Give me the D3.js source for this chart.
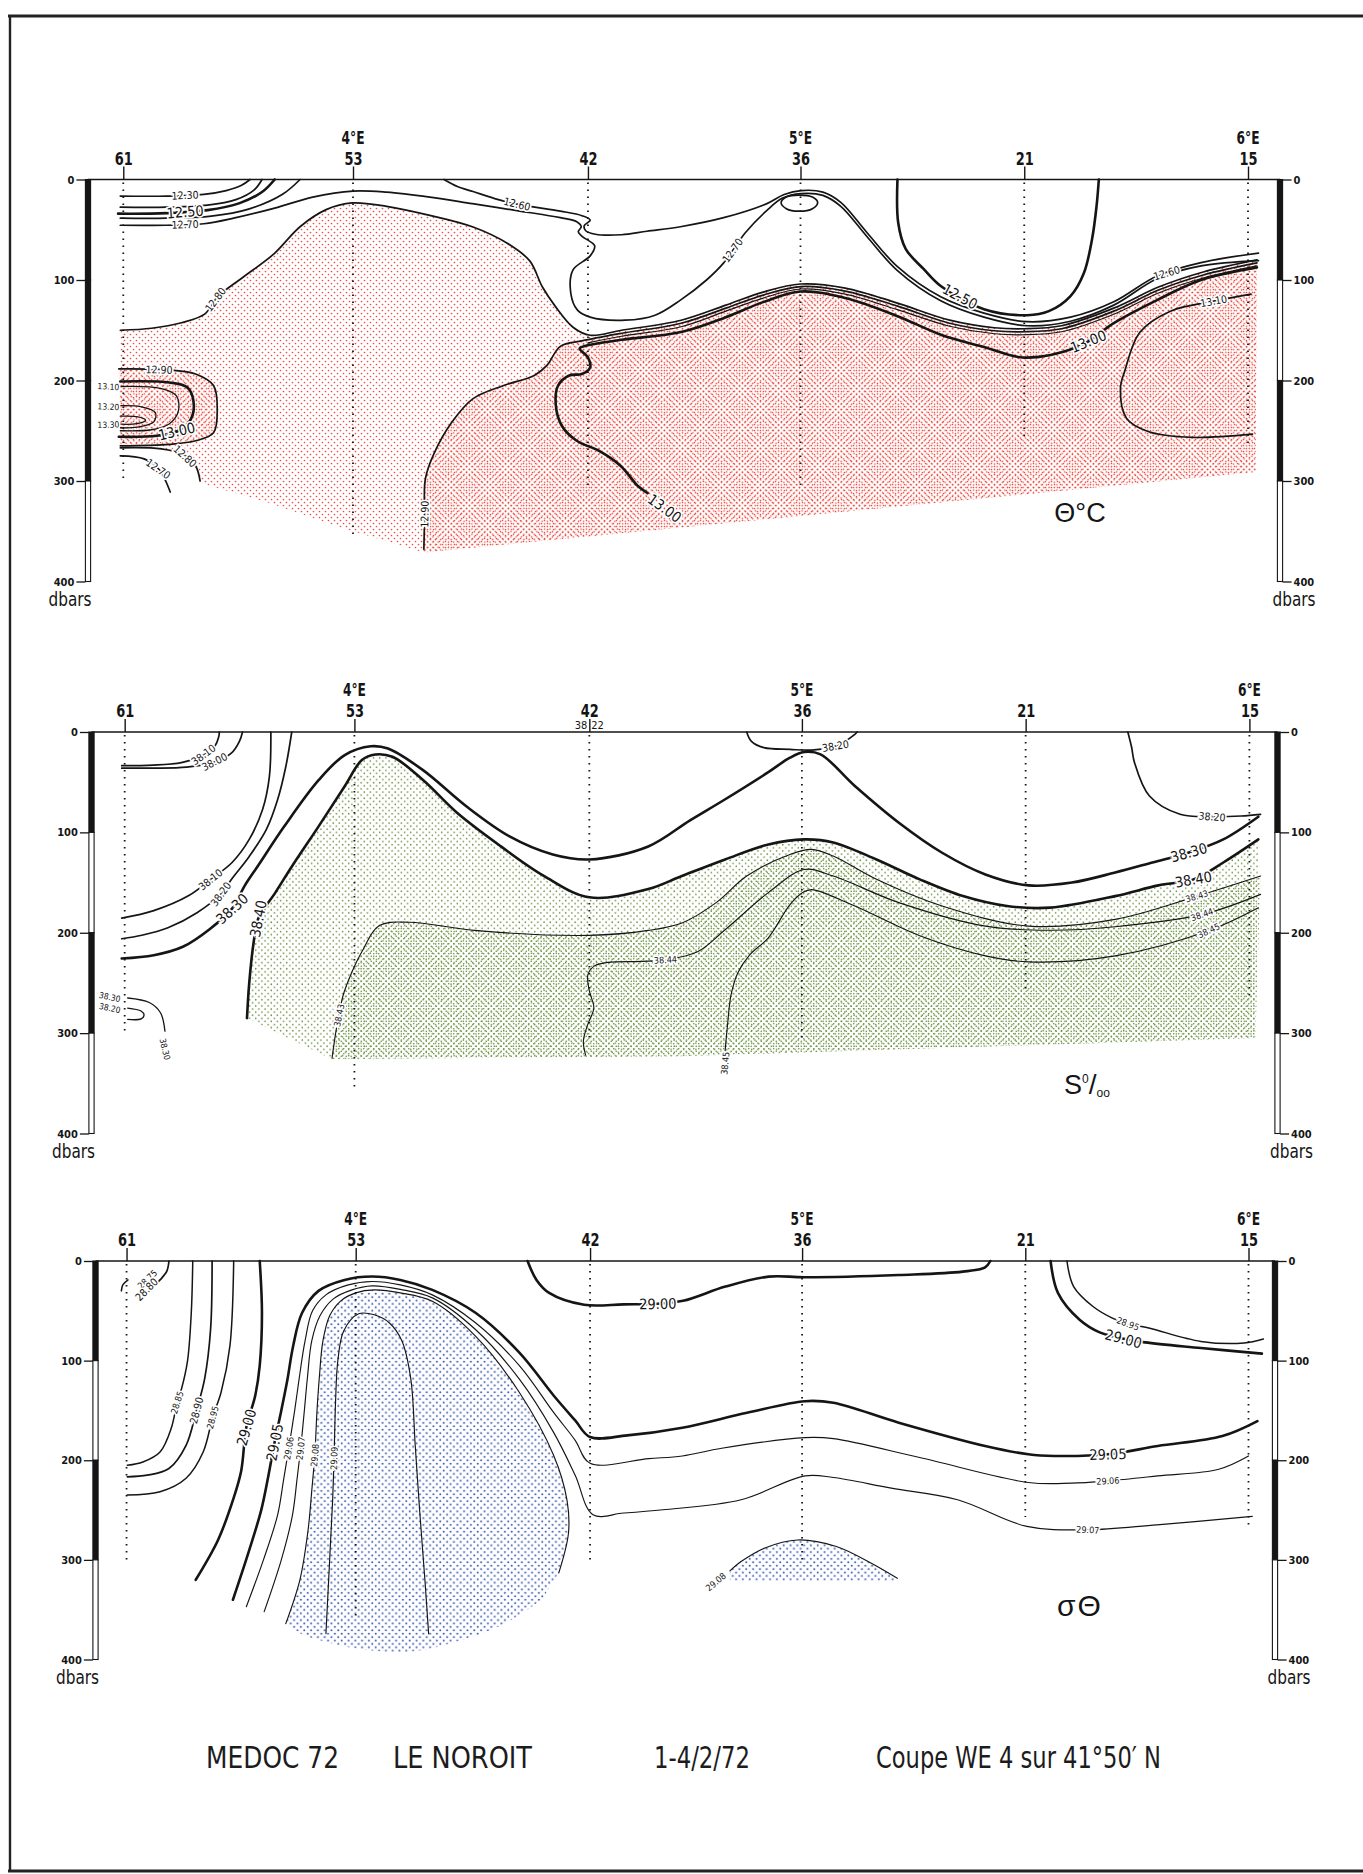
<!DOCTYPE html>
<html>
<head>
<meta charset="utf-8">
<script src="https://cdn.jsdelivr.net/npm/d3@7"></script>
<style>
  html, body { margin: 0; padding: 0; background: #fff; }
  svg { display: block; }
</style>
</head>
<body>
<svg id="chart" width="1363" height="1874"></svg>
<script>
// ---------------------------------------------------------------
// MEDOC 72 - LE NOROIT - section WE 4 along 41°50'N
// Longitudes are minutes east of 3°E, pressures in dbar.
// ---------------------------------------------------------------

const stations      = ["61", "53", "42", "36", "21", "15"];
const stationLon    = [29.2, 60, 91.5, 120, 150, 180];
const stationBottom = [300, 357, 305, 305, 257, 265];
const meridianText  = ["4°E", "5°E", "6°E"];
const meridianLon   = [60, 120, 180];
const depthTicks    = [0, 100, 200, 300, 400];

// ---------- potential temperature (°C) ----------
const thetaIsolines = [
  { level: "12.30", pts: [[28.8,16.5],[35,16.5],[40,14.8],[43,11],[45,6],[46.2,0]] },
  { level: "12.40", pts: [[28.8,27.5],[35,27.5],[40.5,25.5],[44.3,20],[46.8,10],[47.8,0]] },
  { level: "12.50", pts: [[28.5,34],[35,33.5],[40.5,30.5],[44.8,23.5],[47.8,12.5],[49.5,0]] },
  { level: "12.60", pts: [[28.8,38.5],[35,38.5],[41,36.5],[46,29.5],[50.5,15],[52.9,0]] },
  { level: "12.70", pts: [[28.8,45.5],[35,45.5],[40,44],[44,38.5],[49.5,28.5],[54.6,17.5],[60,11.5],[64.5,12.6],[70.3,17.5],[76,24],[82,31],[87.8,38],[90,42],[90.6,47],[90.2,52],[90.8,57],[92.4,66],[91.8,76],[89.5,90],[89.2,113],[90.1,130],[91.8,137],[96.5,140],[100.5,135],[103.9,120],[107.4,100],[109.7,83],[112.6,53],[115.5,30.7],[117.6,18.5],[120.1,14],[123,15.8],[125.4,26.7],[128.9,56.7],[133,90.7],[138.8,120.7],[144.6,137],[150.4,145.5],[156.2,141],[162,125],[167.8,98.7],[173.7,86],[181.4,80.7]] },
  { level: "12.60", pts: [[72.2,0],[74,7],[76.1,12],[79,19],[82,24.5],[87.8,31.5],[90.7,36],[91.8,40.5],[91,46],[91.2,51],[92.5,54.5],[96,55],[99.4,51.5],[103.9,47],[109.7,38],[115.5,24],[117.8,15],[120.1,11],[123,12.5],[125.4,22.7],[128.9,52.7],[133,86.7],[138.8,116.7],[144.6,133],[150.4,141.5],[156.2,137],[162,121.7],[167.8,96],[173.7,82.7],[181.4,73.3]] },
  { level: "12.80", closed: true, pts: [[117.4,23],[118.1,17.5],[119.8,15.5],[121.6,17.5],[122.3,23],[121.6,29],[119.8,31.5],[118.1,29]] },
  { level: "12.50", pts: [[133,0],[133.1,43],[134.1,69],[136.5,89],[138.8,106],[144.6,129],[150.4,135],[153.3,131],[156.2,116],[158,93],[159.1,59],[159.7,26],[160,0]] },
  { id: "t1280", level: "12.80", pts: [[28.8,150],[33,148],[37,142.5],[40.1,134],[41.8,117],[45.3,97],[49.4,74],[52.9,47],[56.4,30],[59.9,23.3],[64.5,26.7],[70.3,35.7],[76.1,47.3],[80.8,64],[83.7,81],[85.4,107],[87.2,127],[89.5,147],[91.8,155],[96,150],[104,140],[110,125],[115,112],[120,104],[126,108],[133,123],[140,140],[146,147.5],[150,148.5],[155,145.5],[162,128],[168,107],[174,92],[181.2,80]] },
  { id: "t1290", level: "12.90", pts: [[69.5,368],[69.6,335],[69.7,298],[70.9,272],[73.2,242],[76.1,218],[80.2,205],[84.3,195],[86,185],[87.8,166],[90.7,160.5],[96,153],[104,143],[110,128],[115,115],[120,106.5],[126,111],[133,126],[140,143],[146,150.5],[150,151.5],[155,148.5],[162,131],[168,110],[174,95],[181.2,83]] },
  { level: "12.95", pts: [[91.5,162.5],[96,156],[104,146.5],[110,131],[115,118],[120,109],[126,114],[133,129.5],[140,146],[146,153.5],[150,154.5],[155,151.5],[162,134],[168,113],[174,98],[181.2,86]] },
  { level: "13.00", pts: [[99.5,312],[98.2,305],[95.9,285],[93,270],[90,260],[88,245],[87.2,225],[87.5,205],[89,195],[90.7,193.5],[91.8,187],[91.5,177],[90.4,168],[91.5,165],[96,159.5],[104,151.7],[110,137],[115,122],[120,111.5],[126,118],[133,136],[139,155],[144.6,166.7],[149.2,176.7],[152,176.5],[155,172],[158.6,161],[162,143],[167.8,120],[173.7,100],[181.2,87.5]] },
  { level: "13.10", pts: [[180.4,114],[175.4,121],[169.6,131],[165.5,152],[163.5,190],[162.9,208],[163.7,237.5],[166.6,250.7],[172.5,256.6],[180.6,253.4]] },
  { id: "t1290L", level: "12.90", pts: [[28.6,188.5],[35.4,189.5],[38.9,193.5],[41.3,205],[41.8,228.5],[41.3,252],[38.9,260],[35.4,263.5],[28.8,265]] },
  { level: "13.00", pts: [[28.8,201],[35.4,202],[37.8,207],[38.6,220],[38.3,238],[36.6,250],[33.7,255],[28.6,256]] },
  { level: "13.10", fine: true, pts: [[28.8,206],[34.3,208],[36.3,215],[36.6,230],[35.4,243],[33,249],[28.8,250]] },
  { level: "13.20", fine: true, pts: [[28.8,225],[31.5,226],[33.5,232],[33.3,241],[31,246.5],[28.8,247]] },
  { level: "13.30", fine: true, pts: [[28.8,235.5],[31,236],[32.2,239.5],[31,243],[28.8,243.5]] },
  { id: "t1280L", level: "12.80", pts: [[28.8,267],[34.3,268],[37.2,273.5],[38.9,285],[39.5,300]] },
  { level: "12.70", pts: [[28.8,275],[32,278],[34,288.5],[35.5,311]] }
];
const thetaLabels = [
  ["12.30",37.5,16.5],["12.50",37.5,33],["12.70",37.5,45.5],["12.80",41.5,119],
  ["12.60",82,24.5],["12.70",110.8,70],["12.50",141,122],["12.60",169,91],
  ["13.00",158.6,161],["13.10",175.4,121],["12.90",34,189.3],
  ["13.10",27.2,206],["13.20",27.2,226],["13.30",27.2,244],["13.00",36.4,251.5],
  ["12.80",37.4,276],["12.70",33.8,289],["12.90",69.6,333],["13.00",101.8,327]
];
const thetaHeavy = ["12.50", "13.00"];
const thetaZones = [
  { dots: "light", parts: ["t1280", { pts: [[181.2,80],[181,291],[69.5,371],[58.7,347],[48,320],[39.5,302]] }, "-t1280L"] },
  { dots: "dense", parts: ["t1290", { pts: [[181.2,83],[181,291],[69.5,371]] }] },
  { dots: "dense", parts: ["t1290L"] }
];

// ---------- salinity (‰) ----------
const salIsolines = [
  { level: "38.10", pts: [[28.8,33.5],[33,33],[36.8,30.5],[39.5,24],[41.3,14],[41.8,5],[41.9,0]] },
  { level: "38.00", pts: [[28.8,36],[33,36],[37.5,35],[41,30.5],[43.5,21],[44.6,9],[45,0]] },
  { level: "38.10", pts: [[48.8,0],[48.6,44.5],[47.7,77],[45.9,107],[43.6,130],[40.7,147],[37.8,163],[33.1,178],[28.8,185.5]] },
  { level: "38.20", pts: [[51.6,0],[50.8,34.6],[49.7,67.5],[48.2,97],[45.9,124],[43.6,146],[42.1,161.4],[38.9,180],[35,195],[31.5,202.5],[28.8,206]] },
  { level: "38.30", pts: [[28.8,225.7],[33.1,222.4],[37,214],[40.5,197],[43.6,176],[45.3,153],[47.1,133],[50.6,94],[55.2,48],[58.7,23],[62.2,14.2],[64.5,16.5],[69.2,38],[75,74],[80.8,104],[86.6,122],[91.5,127],[99.4,114],[105,88],[109.5,68],[115.5,40],[118.4,25.6],[120.3,20],[122.5,22.3],[127.1,53.8],[133,90.4],[138.8,120.3],[144.6,141.9],[150.4,152.8],[156.2,150],[162,140],[167,130],[171.9,120],[176.5,107],[181.2,84.4]] },
  { id: "s3840", level: "38.40", pts: [[45.6,285],[45.9,250],[46.5,209],[47.1,186],[49.4,160],[51.7,133],[55.2,94],[58.7,54],[61,28],[62.8,22.4],[65.1,24.7],[69.2,47.8],[73.8,80.7],[79.6,113.7],[85.4,143.3],[91.5,164.7],[99.4,156.5],[103.9,143.5],[109.7,127],[115.5,112],[120.3,107],[124.2,110],[130,127],[135.8,146.8],[141.6,163.5],[147.5,173.4],[153.3,175],[162,163.5],[167.8,152.8],[172.5,146.8],[176.5,130],[181.2,107]] },
  { id: "s3843", level: "38.43", pts: [[57,325],[57.6,295],[58.5,262],[59.5,242],[61,219],[63.3,193],[67.4,189.5],[76.1,197.7],[91.5,202.6],[99.4,197.7],[104,190],[108.5,170],[112.6,143.5],[118.4,122],[121.3,117],[124.2,123.6],[130,146.8],[138.8,173.4],[150.4,193.4],[162,186.7],[173,163.5],[181.5,143.5]] },
  { level: "38.44", pts: [[91,322],[90.7,308],[91.3,291],[92.1,275],[91.5,258],[91.3,242],[92.2,233],[94,229.5],[98.5,228.5],[101.7,227],[106,219],[109.7,197],[115.5,160],[120.3,137],[124.2,143.5],[133,170],[144.6,193.4],[153.3,197.5],[162,194],[173.6,182],[181.5,161.8]] },
  { level: "38.45", pts: [[109.7,318],[110,294],[110.5,262],[111.4,240],[113,222],[115.5,205],[118.4,172],[120.1,160],[121.3,157],[127.1,173.4],[135.8,203],[144.6,223],[150.4,229],[162,223],[174.5,198],[181.2,175]] },
  { level: "38.20", pts: [[163.7,0],[164.2,15],[164.6,30.6],[166.6,63.8],[170.7,82],[175,84.4],[178.9,83.7],[181.5,82]] },
  { level: "38.20", pts: [[112.6,0],[113.2,9],[114.9,15.6],[118.4,17.3],[121.3,18],[124.5,14],[127.1,2.3],[127.4,0]] },
  { level: "38.30", fine: true, pts: [[29.6,265],[32.5,269.5],[34,279.7],[34.6,298]] },
  { level: "38.20", fine: true, pts: [[29.6,275],[31.4,278],[31.8,282],[31.4,285.8],[29.6,286.4]] }
];
const salLabels = [
  ["38.10",39.6,21],["38.00",41.2,29],["38.10",40.7,147],["38.20",42.1,161.4],["38.30",43.6,176],
  ["38.40",47.1,186],["38.20",124.5,14],["38.30",171.9,120],["38.40",172.5,147],["38.43",173,165],
  ["38.44",173.6,181],["38.45",174.5,197],["38.20",175,84.4],["38.44",101.7,227],["38.43",57.8,282],
  ["38.45",109.7,330],["38.30",27.2,264],["38.20",27.2,275],["38.30",34.6,316]
];
const salHeavy = ["38.30", "38.40"];
const salZones = [
  { dots: "light", parts: ["s3840", { pts: [[181.2,107],[180.8,305],[103.9,323],[57,326],[45.9,286]] }] },
  { dots: "dense", parts: ["s3843", { pts: [[181.5,143.5],[180.8,305],[103.9,323],[57,325.5]] }] }
];
const salTopNote = ["38", "22"];   // surface value at station 42

// ---------- sigma-theta ----------
const sigmaIsolines = [
  { level: "28.75", pts: [[28.5,30],[28.7,24],[29.4,19]] },
  { level: "28.80", pts: [[34.9,0],[34.6,10.5],[33.7,19],[32.9,25]] },
  { level: "28.85", pts: [[38.1,0],[37.9,52],[37.4,100],[36.6,128],[36,142],[35.2,168],[33.7,191.7],[31.4,201.7],[29.3,205]] },
  { level: "28.90", pts: [[40.7,0],[40.5,68],[39.7,118],[38.6,150],[37.2,185],[34.9,208.3],[32,215],[29.3,216.6]] },
  { level: "28.95", pts: [[43.6,0],[43.1,85],[41.9,132],[40.8,156],[39.5,191.7],[37.2,218],[33.7,231.6],[29.3,234.9]] },
  { level: "29.00", pts: [[47.1,0],[47.4,52],[47.1,105],[46.5,135],[45.3,167],[44.6,211],[43.5,240],[41.5,280],[38.5,320]] },
  { level: "29.05", pts: [[43.5,340],[45.7,290],[47.3,250],[48.2,218],[49.1,182],[50,150],[50.8,120],[51.6,85],[52.8,52],[55,30],[58.5,19],[62.2,15.6],[66,19],[70.3,29],[76.1,52],[82,92],[86.6,135],[89.5,160],[91.5,176.7],[96.5,175],[103.9,167.3],[112.6,152.3],[120.4,140.7],[124.2,142.3],[133,162.3],[144.6,185.7],[150.4,194],[153.9,195.7],[161.1,194],[167.8,185.7],[176.5,175.7],[181.2,160.7]] },
  { level: "29.06", pts: [[45.3,347],[47.6,300],[49.5,255],[50.3,220],[51,188],[51.8,150],[52.4,118],[53.2,80],[54.2,50],[56,34],[59,24],[62.2,20.6],[66,24],[70.3,34],[76.1,62],[82,105],[86.6,152],[89.5,180],[91.5,203],[99.4,198.3],[103.9,195.7],[109.2,188],[120.4,177.3],[124.2,178.3],[135.8,197.3],[150.4,222.3],[156.2,223],[161.1,220.7],[167.8,215.7],[176,209],[180,195.7]] },
  { level: "29.07", pts: [[47.7,352],[50,300],[51.5,255],[52.1,220],[52.6,188],[53.1,150],[53.5,118],[54.1,80],[55.2,55],[57,38],[59.5,29],[62.2,25],[66,28.5],[70.3,37],[76.1,68.8],[82,118.6],[86.6,172],[89.5,215],[91.9,254.7],[96,253],[101.3,249.7],[111.8,239.6],[120.4,215.7],[124.2,217.3],[132,228],[140.9,239.6],[150.2,266.4],[158.4,269.8],[167.7,264.8],[180.5,256.4]] },
  { id: "g2908a", level: "29.08", pts: [[50.6,364],[52.5,320],[53.6,270],[54.1,230],[54.5,195],[54.8,150],[55.1,118],[55.6,80],[56.5,55],[58,40],[60,32],[62.5,29],[66,32],[70.3,40.5],[76.1,75.4],[82,132],[86.6,195],[88.4,240],[88.6,273],[87.3,313]] },
  { level: "29.09", pts: [[56,374],[56.5,300],[56.9,240],[57.1,195],[57.3,140],[57.6,100],[58.4,70],[60.4,53],[62.5,54],[64.5,62],[66.2,80],[67.4,118],[68,185],[68.6,251],[69.3,320],[69.8,374]] },
  { level: "29.00", pts: [[83.1,0],[84.3,19],[86,32],[90.7,43.9],[96,43.5],[100.6,42.9],[104,40],[109.7,25.7],[115.5,15.7],[120.4,16.3],[133,14],[141.6,10.7],[144.6,6.3],[145.3,0]] },
  { level: "29.00", pts: [[153.4,0],[154.4,32.3],[157.3,59],[160,71.7],[163.2,78],[166.1,81.7],[173.6,87.3],[181.8,93]] },
  { level: "28.95", pts: [[155.6,0],[156.5,25.7],[159.1,45.7],[161.7,57.3],[163.8,63],[166.6,67.3],[173.6,80.7],[179.4,82.3],[182,78.3]] },
  { id: "g2908b", level: "29.08", pts: [[110.3,311],[111.8,301.7],[115,288],[119.4,280],[124.6,286.6],[129.3,303.4],[132.8,318.5]] }
];
const sigmaLabels = [
  ["28.75",32,18.3],["28.80",31.9,28.5],["28.85",36,142],["28.90",38.6,150],["28.95",40.8,157],
  ["29.00",45.3,167],["29.05",49.1,182],["29.06",51,188],["29.07",52.6,188],["29.08",54.5,195],
  ["29.09",57.1,198],["29.00",100.6,43],["29.00",163.2,78],["28.95",163.8,63],["29.05",161.1,194],
  ["29.06",161.1,221],["29.07",158.4,270],["29.08",108.4,322]
];
const sigmaHeavy = ["29.00", "29.05"];
const sigmaZones = [
  { dots: "light", parts: ["g2908a", { round: true, pts: [[85,340],[80.5,362],[75.7,377],[67.5,392],[59.3,388],[53,376]] }] },
  { dots: "light", parts: ["g2908b", { pts: [[132.8,321],[110.3,321]] }] }
];

// ---------------------------------------------------------------
// drawing
// ---------------------------------------------------------------
const NARROW = '"Liberation Sans Narrow","Arial Narrow","DejaVu Sans Condensed",sans-serif';
const SANS = '"Liberation Sans","DejaVu Sans",sans-serif';
const INK = "#151515";

const svg = d3.select("#chart");
svg.append("rect").attr("width", 1363).attr("height", 1874).attr("fill", "#fff");
const defs = svg.append("defs");

function dotPattern(id, color, step, r) {
  const p = defs.append("pattern").attr("id", id)
    .attr("patternUnits", "userSpaceOnUse").attr("width", step).attr("height", step);
  p.append("circle").attr("cx", step / 4).attr("cy", step / 4).attr("r", r).attr("fill", color);
  p.append("circle").attr("cx", step * 3 / 4).attr("cy", step * 3 / 4).attr("r", r).attr("fill", color);
}
dotPattern("red-light", "#e65247", 6.0, 0.85);
dotPattern("red-dense", "#e65247", 5.2, 0.8);
dotPattern("green-light", "#6a9040", 6.2, 0.8);
dotPattern("green-dense", "#6a9040", 5.0, 0.82);
dotPattern("blue-light", "#3f5db5", 6.8, 1.05);

// sheet frame
svg.append("line").attr("x1", 8).attr("x2", 1363).attr("y1", 16).attr("y2", 16)
  .attr("stroke", "#222").attr("stroke-width", 3.2);
svg.append("line").attr("x1", 10).attr("x2", 10).attr("y1", 15).attr("y2", 1872)
  .attr("stroke", "#222").attr("stroke-width", 2.4);
svg.append("line").attr("x1", 8).attr("x2", 1363).attr("y1", 1871).attr("y2", 1871)
  .attr("stroke", "#222").attr("stroke-width", 3.2);

const curve = d3.curveCatmullRom.alpha(0.5);

const panels = [
  { lines: thetaIsolines, labels: thetaLabels, zones: thetaZones, heavy: thetaHeavy, color: "red",
    xr: [353, 1248], yr: [179.5, 581.5], barL: 88, barR: 1280, leftFill: [1,1,1,0], rightFill: [1,0,1,0] },
  { lines: salIsolines, labels: salLabels, zones: salZones, heavy: salHeavy, color: "green",
    xr: [354.4, 1249.4], yr: [732, 1133.5], barL: 91.5, barR: 1277.5, leftFill: [1,0,1,0], rightFill: [1,0,1,0] },
  { lines: sigmaIsolines, labels: sigmaLabels, zones: sigmaZones, heavy: sigmaHeavy, color: "blue",
    xr: [355.7, 1248.5], yr: [1261, 1659.5], barL: 95.5, barR: 1275, leftFill: [1,0,1,0], rightFill: [1,0,1,0] }
];

function lineWidth(l, heavy) {
  if (l.fine) return 1.3;
  if (heavy.includes(l.level)) return 2.6;
  if (/0$/.test(l.level)) return 1.7;
  if (/\.[0-9]5$/.test(l.level) && !/\.05$/.test(l.level) && /^28/.test(l.level)) return 1.5;
  return 1.15;
}
function labelSize(l, level, heavy) {
  if (l && l.fine) return 8.5;
  if (heavy.includes(level)) return 14.5;
  return level.endsWith("0") ? 10.5 : 9;
}

function zonePath(zone, lines, X, Y) {
  let d = "";
  zone.parts.forEach((part, i) => {
    let pts, curved;
    if (typeof part === "string") {
      const rev = part[0] === "-";
      const l = lines.find(q => q.id === (rev ? part.slice(1) : part));
      pts = rev ? l.pts.slice().reverse() : l.pts;
      curved = true;
    } else {
      pts = part.pts; curved = !!part.round;
    }
    const scr = pts.map(p => [X(p[0]), Y(p[1])]);
    if (curved) {
      const s = d3.line().curve(curve)(scr);
      d += (i === 0 ? s : "L" + s.slice(1));
    } else {
      scr.forEach((p, j) => { d += ((i === 0 && j === 0) ? "M" : "L") + p[0].toFixed(1) + "," + p[1].toFixed(1); });
    }
  });
  return d + "Z";
}

function nearest(lines, level, px, py, X, Y) {
  let best = null;
  lines.filter(l => l.level === level).forEach(l => {
    const p = l.pts.map(q => [X(q[0]), Y(q[1])]);
    if (l.closed) p.push(p[0]);
    for (let i = 0; i < p.length - 1; i++) {
      const [x1, y1] = p[i], [x2, y2] = p[i + 1];
      const dx = x2 - x1, dy = y2 - y1, L2 = dx * dx + dy * dy || 1;
      let t = ((px - x1) * dx + (py - y1) * dy) / L2;
      t = Math.max(0, Math.min(1, t));
      const cx = x1 + t * dx, cy = y1 + t * dy, dist = Math.hypot(px - cx, py - cy);
      if (!best || dist < best.dist) best = { dist, cx, cy, line: l, ang: Math.atan2(dy, dx) * 180 / Math.PI };
    }
  });
  return best;
}

panels.forEach((P, pi) => {
  const x = d3.scaleLinear().domain([60, 180]).range(P.xr);
  const y = d3.scaleLinear().domain([0, 400]).range(P.yr);
  const g = svg.append("g");

  // dotted water-mass shading
  P.zones.forEach(z => {
    g.append("path").attr("d", zonePath(z, P.lines, x, y))
      .attr("fill", `url(#${P.color}-${z.dots})`).attr("stroke", "none");
  });

  // station verticals
  stationLon.forEach((lon, i) => {
    g.append("line").attr("x1", x(lon)).attr("x2", x(lon))
      .attr("y1", y(0) + 3).attr("y2", y(stationBottom[i]))
      .attr("stroke", INK).attr("stroke-width", 1.8).attr("stroke-dasharray", "1.6,5.4");
  });

  // isolines
  const lg = d3.line().x(p => x(p[0])).y(p => y(p[1])).curve(curve);
  const lgc = d3.line().x(p => x(p[0])).y(p => y(p[1])).curve(d3.curveCatmullRomClosed.alpha(0.5));
  P.lines.forEach(l => {
    g.append("path").attr("d", (l.closed ? lgc : lg)(l.pts))
      .attr("fill", "none").attr("stroke", INK)
      .attr("stroke-width", lineWidth(l, P.heavy))
      .attr("stroke-linecap", "round").attr("stroke-linejoin", "round");
  });

  // isoline values
  P.labels.forEach(([t, m, d]) => {
    let px = x(m), py = y(d), ang = 0;
    const nb = nearest(P.lines, t, px, py, x, y);
    if (nb) {
      if (nb.dist < 8) { px = nb.cx; py = nb.cy; }
      ang = nb.ang;
      while (ang >= 90) ang -= 180;
      while (ang < -90) ang += 180;
    }
    g.append("text").attr("transform", `translate(${px},${py}) rotate(${ang})`)
      .attr("text-anchor", "middle").attr("dy", "0.36em")
      .attr("font-family", NARROW).attr("font-size", labelSize(nb && nb.line, t, P.heavy))
      .attr("fill", INK).attr("stroke", "#fff").attr("stroke-width", 3.2)
      .attr("paint-order", "stroke").text(t);
  });

  // surface line between the pressure bars
  g.append("line").attr("x1", P.barL).attr("x2", P.barR).attr("y1", y(0)).attr("y2", y(0))
    .attr("stroke", INK).attr("stroke-width", 1.6);

  // station axis
  const top = g.append("g").attr("transform", `translate(0,${y(0)})`)
    .call(d3.axisTop(x).tickValues(stationLon).tickFormat((d, i) => stations[i]).tickSize(13).tickPadding(2));
  top.select(".domain").remove();
  top.selectAll(".tick line").attr("stroke", INK).attr("stroke-width", 1.4);
  top.selectAll(".tick text").attr("font-family", NARROW).attr("font-weight", "bold")
    .attr("font-size", 18).attr("transform", "scale(0.8,1)").attr("fill", INK);

  meridianLon.forEach((lon, i) => {
    g.append("text").attr("transform", `translate(${x(lon)},${y(0) - 36}) scale(0.8,1)`)
      .attr("text-anchor", "middle")
      .attr("font-family", NARROW).attr("font-weight", "bold").attr("font-size", 17)
      .attr("fill", INK).text(meridianText[i]);
  });

  // pressure bars and ticks
  const barW = 5.2;
  [[P.barL, P.leftFill], [P.barR, P.rightFill]].forEach(([xb, fill]) => {
    depthTicks.slice(0, -1).forEach((d, i) => {
      g.append("rect").attr("x", xb - barW / 2).attr("y", y(d))
        .attr("width", barW).attr("height", y(depthTicks[i + 1]) - y(d))
        .attr("fill", fill[i] ? INK : "#fff").attr("stroke", INK).attr("stroke-width", 1.1);
    });
  });
  const left = g.append("g").attr("transform", `translate(${P.barL - barW / 2},0)`)
    .call(d3.axisLeft(y).tickValues(depthTicks).tickSize(9).tickPadding(2));
  const right = g.append("g").attr("transform", `translate(${P.barR + barW / 2},0)`)
    .call(d3.axisRight(y).tickValues(depthTicks).tickSize(9).tickPadding(2));
  [left, right].forEach(a => {
    a.select(".domain").remove();
    a.selectAll(".tick line").attr("stroke", INK).attr("stroke-width", 1.3);
    a.selectAll(".tick text").attr("font-family", NARROW).attr("font-weight", "bold")
      .attr("font-size", 11).attr("fill", INK);
  });
  [[P.barL - 18, "middle"], [P.barR + 14, "middle"]].forEach(([tx, anc]) => {
    g.append("text").attr("transform", `translate(${tx},${y(400) + 24}) scale(0.85,1)`)
      .attr("text-anchor", anc)
      .attr("font-family", NARROW).attr("font-size", 20).attr("fill", INK).text("dbars");
  });

  if (pi === 1) {
    g.append("text").attr("x", x(stationLon[2]) - 2).attr("y", y(0) - 3).attr("text-anchor", "end")
      .attr("font-family", NARROW).attr("font-size", 11).attr("fill", INK).text(salTopNote[0]);
    g.append("text").attr("x", x(stationLon[2]) + 2).attr("y", y(0) - 3).attr("text-anchor", "start")
      .attr("font-family", NARROW).attr("font-size", 11).attr("fill", INK).text(salTopNote[1]);
  }
});

// parameter symbols
svg.append("text").attr("x", 1080).attr("y", 522).attr("text-anchor", "middle")
  .attr("font-family", SANS).attr("font-size", 27).attr("fill", INK).text("Θ°C");
const sal = svg.append("text").attr("x", 1064).attr("y", 1094)
  .attr("font-family", SANS).attr("font-size", 27).attr("fill", INK);
sal.append("tspan").text("S");
sal.append("tspan").attr("font-size", 12).attr("dy", -11).text("0");
sal.append("tspan").attr("font-size", 28).attr("dy", 11).text("/");
sal.append("tspan").attr("font-size", 12).attr("dy", 3).text("oo");
svg.append("text").attr("x", 1080).attr("y", 1616).attr("text-anchor", "middle")
  .attr("font-family", SANS).attr("font-size", 30).attr("letter-spacing", 2)
  .attr("fill", INK).text("σΘ");

// caption
const caption = [
  ["MEDOC 72", 206, 133], ["LE NOROIT", 393, 139], ["1-4/2/72", 654, 96], ["Coupe WE 4 sur 41°50′ N", 876, 285]
];
caption.forEach(([t, cx, w]) => {
  svg.append("text").attr("x", cx).attr("y", 1768).attr("font-family", NARROW)
    .attr("font-size", 31).attr("fill", "#1c1c1c")
    .attr("textLength", w).attr("lengthAdjust", "spacingAndGlyphs").text(t);
});
</script>
</body>
</html>
